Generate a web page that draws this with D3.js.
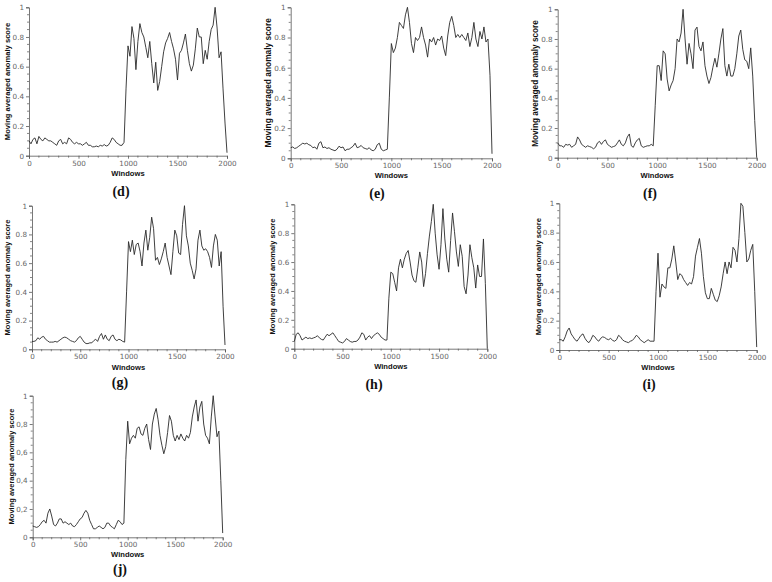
<!DOCTYPE html>
<html><head><meta charset="utf-8">
<script src="https://cdn.jsdelivr.net/npm/d3@7"></script>
<style>body{margin:0;background:#fff}svg{display:block}</style>
</head><body>
<svg id="c" width="772" height="582"></svg>
<script>
// Window positions (step of 20 windows)
const windows = d3.range(0, 2001, 20);
const xTicks = [0, 500, 1000, 1500, 2000];
const yTicks = [0, 0.2, 0.4, 0.6, 0.8, 1];
const captions = ["(d)", "(e)", "(f)", "(g)", "(h)", "(i)", "(j)"];

const scoresD = [
0.10,0.08,0.11,0.12,0.08,0.13,0.11,0.10,0.12,0.11,
0.10,0.10,0.09,0.08,0.07,0.10,0.11,0.08,0.09,0.08,
0.12,0.11,0.09,0.08,0.09,0.08,0.08,0.07,0.08,0.09,
0.07,0.07,0.06,0.06,0.065,0.06,0.07,0.065,0.075,0.065,
0.07,0.09,0.12,0.11,0.09,0.08,0.07,0.07,0.09,0.45,
0.74,0.67,0.87,0.79,0.58,0.77,0.89,0.83,0.80,0.73,
0.66,0.77,0.62,0.49,0.63,0.44,0.50,0.60,0.70,0.76,
0.79,0.83,0.77,0.72,0.65,0.51,0.69,0.71,0.76,0.82,
0.71,0.62,0.57,0.61,0.72,0.86,0.80,0.80,0.62,0.71,
0.65,0.77,0.85,0.88,1.0,0.86,0.66,0.70,0.45,0.22,
0.02];
const scoresE = [
0.07,0.075,0.065,0.07,0.08,0.09,0.10,0.095,0.10,0.09,
0.085,0.07,0.075,0.06,0.10,0.11,0.07,0.075,0.065,0.07,
0.06,0.055,0.05,0.06,0.08,0.07,0.075,0.05,0.06,0.06,
0.07,0.08,0.10,0.07,0.075,0.085,0.07,0.065,0.06,0.07,
0.055,0.05,0.06,0.09,0.10,0.06,0.05,0.055,0.06,0.40,
0.76,0.70,0.73,0.80,0.90,0.88,0.86,0.95,1.0,0.90,
0.76,0.70,0.80,0.78,0.80,0.87,0.80,0.75,0.67,0.79,
0.77,0.80,0.75,0.79,0.78,0.81,0.73,0.68,0.81,0.90,
0.94,0.88,0.80,0.82,0.80,0.82,0.80,0.78,0.83,0.74,
0.80,0.90,0.79,0.74,0.84,0.79,0.87,0.77,0.79,0.55,
0.03];
const scoresF = [
0.10,0.08,0.08,0.07,0.09,0.085,0.09,0.07,0.08,0.09,
0.14,0.12,0.09,0.08,0.07,0.08,0.075,0.07,0.06,0.07,
0.10,0.11,0.09,0.11,0.12,0.09,0.08,0.07,0.075,0.08,
0.10,0.12,0.09,0.08,0.10,0.14,0.16,0.08,0.07,0.10,
0.12,0.13,0.08,0.07,0.075,0.08,0.08,0.09,0.08,0.35,
0.62,0.62,0.52,0.72,0.70,0.53,0.45,0.49,0.52,0.60,
0.80,0.78,0.84,1.0,0.80,0.63,0.77,0.70,0.60,0.86,
0.88,0.75,0.72,0.78,0.62,0.55,0.50,0.54,0.61,0.67,
0.61,0.70,0.80,0.87,0.62,0.55,0.63,0.55,0.55,0.60,
0.70,0.82,0.86,0.73,0.66,0.65,0.60,0.74,0.55,0.25,
0.0];
const scoresG = [
0.055,0.055,0.06,0.08,0.07,0.085,0.09,0.07,0.06,0.05,
0.05,0.05,0.055,0.05,0.06,0.07,0.08,0.085,0.08,0.07,
0.06,0.055,0.05,0.06,0.08,0.09,0.07,0.05,0.04,0.04,
0.045,0.045,0.06,0.07,0.055,0.09,0.11,0.07,0.10,0.07,
0.06,0.09,0.10,0.07,0.06,0.07,0.065,0.055,0.05,0.40,
0.75,0.68,0.76,0.66,0.73,0.74,0.68,0.58,0.74,0.83,
0.69,0.78,0.92,0.84,0.62,0.64,0.59,0.63,0.68,0.74,
0.64,0.58,0.52,0.68,0.83,0.79,0.67,0.66,0.87,1.0,
0.79,0.72,0.60,0.55,0.49,0.56,0.76,0.83,0.72,0.69,
0.70,0.68,0.64,0.57,0.72,0.80,0.76,0.58,0.68,0.30,
0.03];
const scoresH = [
0.05,0.10,0.11,0.09,0.06,0.07,0.08,0.07,0.075,0.07,
0.075,0.08,0.09,0.075,0.065,0.06,0.08,0.10,0.09,0.10,
0.11,0.09,0.07,0.05,0.045,0.04,0.05,0.07,0.06,0.05,
0.045,0.05,0.05,0.06,0.08,0.11,0.10,0.06,0.08,0.09,
0.07,0.09,0.10,0.11,0.10,0.08,0.07,0.06,0.06,0.35,
0.53,0.52,0.46,0.40,0.56,0.62,0.56,0.62,0.66,0.68,
0.60,0.51,0.47,0.46,0.56,0.67,0.60,0.43,0.52,0.66,
0.78,0.88,1.0,0.80,0.65,0.55,0.72,0.97,0.76,0.62,
0.53,0.75,0.94,0.81,0.67,0.57,0.72,0.64,0.43,0.38,
0.51,0.72,0.63,0.56,0.42,0.58,0.50,0.50,0.76,0.45,
0.0];
const scoresI = [
0.07,0.07,0.06,0.09,0.13,0.15,0.11,0.09,0.07,0.06,
0.08,0.10,0.11,0.08,0.06,0.05,0.07,0.10,0.09,0.07,
0.06,0.08,0.09,0.085,0.075,0.07,0.08,0.065,0.06,0.07,
0.10,0.09,0.07,0.06,0.055,0.05,0.06,0.065,0.08,0.10,
0.09,0.07,0.06,0.05,0.06,0.07,0.06,0.06,0.06,0.40,
0.66,0.36,0.45,0.43,0.42,0.56,0.56,0.62,0.71,0.60,
0.48,0.52,0.51,0.48,0.46,0.44,0.46,0.45,0.50,0.64,
0.70,0.76,0.66,0.50,0.39,0.35,0.35,0.42,0.38,0.34,
0.33,0.37,0.43,0.52,0.60,0.52,0.60,0.56,0.70,0.68,
0.60,0.76,1.0,0.98,0.80,0.60,0.62,0.68,0.72,0.40,
0.02];
const scoresJ = [
0.08,0.075,0.07,0.075,0.09,0.11,0.12,0.10,0.17,0.20,
0.15,0.09,0.08,0.10,0.13,0.13,0.10,0.11,0.10,0.09,
0.10,0.08,0.075,0.09,0.11,0.13,0.14,0.17,0.19,0.17,
0.12,0.09,0.06,0.06,0.07,0.08,0.07,0.06,0.07,0.10,
0.10,0.08,0.07,0.06,0.09,0.12,0.11,0.09,0.10,0.55,
0.82,0.66,0.70,0.72,0.70,0.77,0.78,0.73,0.72,0.77,
0.80,0.69,0.62,0.80,0.87,0.91,0.83,0.72,0.65,0.59,
0.64,0.74,0.86,0.82,0.72,0.68,0.72,0.69,0.73,0.70,
0.68,0.72,0.70,0.74,0.85,0.92,0.97,0.82,0.92,0.96,
0.80,0.72,0.70,0.66,0.85,1.0,0.85,0.71,0.75,0.40,
0.03];

const seriesList = [scoresD, scoresE, scoresF, scoresG, scoresH, scoresI, scoresJ];

// layout of each panel (pixel boxes)
const layout = [
  {x0:29,   x1:227,   yb:155.7, yt:7.3,   tx:7,   tfs:7.6, cx:121, cy:191, wy:173.3, dec:"."},
  {x0:290.7,x1:492,   yb:158.3, yt:7.3,   tx:268, tfs:8.4, cx:377, cy:193, wy:175.7, dec:"."},
  {x0:557.7,x1:756.7, yb:157.7, yt:9.3,   tx:535, tfs:8.2, cx:650, cy:193, wy:175.7, dec:"."},
  {x0:32,   x1:225,   yb:349.3, yt:205.7, tx:7.5, tfs:7.5, cx:120, cy:382, wy:367,   dec:"."},
  {x0:294.3,x1:487.3, yb:348.7, yt:204.3, tx:272, tfs:7.5, cx:374, cy:384, wy:366,   dec:"."},
  {x0:559.3,x1:756.7, yb:350,   yt:203.3, tx:538, tfs:7.6, cx:649, cy:384, wy:367.7, dec:"."},
  {x0:32.7, x1:222.7, yb:537.3, yt:395.7, tx:11.7,tfs:7.5, cx:120, cy:569, wy:554,   dec:","}
];

const svg = d3.select("#c");
const axisCol = "#555", labCol = "#666";

layout.forEach((L, k) => {
  const vals = seriesList[k];
  const x = d3.scaleLinear().domain([0, 2000]).range([L.x0, L.x1]);
  const y = d3.scaleLinear().domain([0, 1]).range([L.yb, L.yt]);
  const g = svg.append("g");

  // minor ticks
  const xMinor = d3.range(0, 2001, 100).filter(v => v % 500 !== 0);
  const yMinor = d3.range(0, 1.0001, 0.05).map(v => +v.toFixed(2)).filter(v => Math.abs(v*5 - Math.round(v*5)) > 1e-6);
  g.selectAll(".xm").data(xMinor).enter().append("line")
    .attr("x1", d => x(d)).attr("x2", d => x(d)).attr("y1", L.yb).attr("y2", L.yb + 2)
    .attr("stroke", axisCol).attr("stroke-width", 0.7);
  g.selectAll(".ym").data(yMinor).enter().append("line")
    .attr("y1", d => y(d)).attr("y2", d => y(d)).attr("x1", L.x0).attr("x2", L.x0 - 2)
    .attr("stroke", axisCol).attr("stroke-width", 0.7);

  // axes
  const xa = g.append("g").attr("transform", `translate(0,${L.yb})`)
    .call(d3.axisBottom(x).tickValues(xTicks).tickSize(3).tickPadding(2).tickFormat(d3.format("d")));
  const ya = g.append("g").attr("transform", `translate(${L.x0},0)`)
    .call(d3.axisLeft(y).tickValues(yTicks).tickSize(3).tickPadding(2)
      .tickFormat(d => (d === 0 || d === 1) ? String(d) : d.toFixed(1).replace(".", L.dec)));
  [xa, ya].forEach(a => {
    a.select(".domain").attr("stroke", axisCol).attr("stroke-width", 0.8);
    a.selectAll(".tick line").attr("stroke", axisCol).attr("stroke-width", 0.8);
    a.selectAll("text").attr("fill", labCol).attr("font-family", "DejaVu Sans, Arial, sans-serif").attr("font-size", 7.2);
  });

  // line
  const line = d3.line().x((d, i) => x(windows[i])).y(d => y(d));
  g.append("path").datum(vals).attr("d", line)
    .attr("fill", "none").attr("stroke", "#2a2a2a").attr("stroke-width", 0.9).attr("stroke-linejoin", "round");

  // axis titles
  g.append("text").attr("x", (L.x0 + L.x1) / 2).attr("y", L.wy + 2.7)
    .attr("text-anchor", "middle").attr("font-family", "Liberation Sans, Arial, sans-serif")
    .attr("font-weight", "bold").attr("font-size", 7.6).attr("fill", "#111").text("Windows");
  g.append("text").attr("transform", `translate(${L.tx + 2.7},${(L.yb + L.yt) / 2}) rotate(-90)`)
    .attr("text-anchor", "middle").attr("font-family", "Liberation Sans, Arial, sans-serif")
    .attr("font-weight", "bold").attr("font-size", L.tfs).attr("fill", "#111").text("Moving averaged anomaly score");

  // caption
  g.append("text").attr("x", L.cx).attr("y", L.cy + 4.8)
    .attr("text-anchor", "middle").attr("font-family", "Liberation Serif, Times New Roman, serif")
    .attr("font-weight", "bold").attr("font-size", 14).attr("fill", "#111").text(captions[k]);
});
</script>
</body></html>
